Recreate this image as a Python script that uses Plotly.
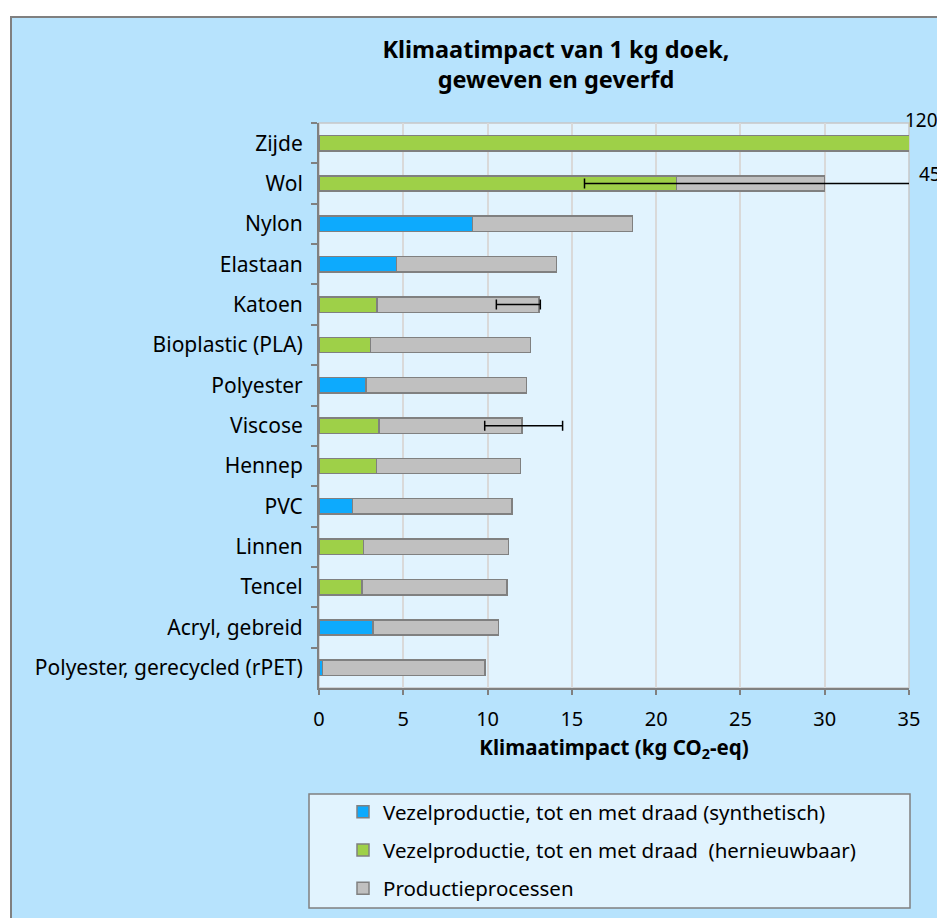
import plotly.graph_objects as go

# ---------------- data ----------------
categories = ["Zijde", "Wol", "Nylon", "Elastaan", "Katoen", "Bioplastic (PLA)",
              "Polyester", "Viscose", "Hennep", "PVC", "Linnen", "Tencel",
              "Acryl, gebreid", "Polyester, gerecycled (rPET)"]
vezel_synthetisch = [None, None, 9.1, 4.6, None, None, 2.8, None, None, 2.0, None, None, 3.2, 0.2]
vezel_hernieuwbaar = [120, 21.2, None, None, 3.45, 3.05, None, 3.55, 3.4, None, 2.65, 2.55, None, None]
productieprocessen = [None, 8.8, 9.5, 9.5, 9.6, 9.5, 9.5, 8.5, 8.55, 9.45, 8.6, 8.6, 7.45, 9.65]

# error bars: category, which stacked end they sit on, low and high ends
err_cats = ["Wol", "Katoen", "Viscose"]
err_on_total = [False, True, True]
err_low = [15.75, 10.52, 9.83]
err_high = [45, 13.13, 14.45]

x_ticks = [0, 5, 10, 15, 20, 25, 30, 35]

series_names = ["Vezelproductie, tot en met draad (synthetisch)",
                "Vezelproductie, tot en met draad  (hernieuwbaar)",
                "Productieprocessen"]
colors = ["#0DAAFD", "#9ED048", "#C0C0C0"]

title_lines = ["Klimaatimpact van 1 kg doek,", "geweven en geverfd"]

FONT = "Noto Sans"
W, H = 945, 918
L, R, T, B = 311, 901, 115, 680   # plot area in figure pixels


def px2x(p):
    return (p - L) / (R - L)


def px2y(p):
    return (B - p) / (B - T)


fig = go.Figure()
for name, vals, col in zip(series_names,
                           [vezel_synthetisch, vezel_hernieuwbaar, productieprocessen],
                           colors):
    fig.add_trace(go.Bar(
        y=categories, x=vals, orientation="h", name=name,
        marker=dict(color=col, line=dict(color="#808080", width=1.5)),
        width=0.38, legendgroup=name,
    ))

# error bar positions derived from series values
base = []
for c, tot in zip(err_cats, err_on_total):
    i = categories.index(c)
    f = (vezel_synthetisch[i] or 0) + (vezel_hernieuwbaar[i] or 0)
    base.append(f + (productieprocessen[i] or 0) if tot else f)
fig.add_trace(go.Scatter(
    y=err_cats, x=base, mode="markers", marker=dict(size=0.1, color="rgba(0,0,0,0)"),
    showlegend=False, hoverinfo="skip",
    error_x=dict(type="data", symmetric=False,
                 array=[h - b for h, b in zip(err_high, base)],
                 arrayminus=[b - l for l, b in zip(err_low, base)],
                 color="black", thickness=1.5, width=5),
))

shapes = [
    # outer frame
    dict(type="rect", xref="paper", yref="paper", layer="below",
         x0=px2x(3), x1=px2x(941), y0=px2y(914), y1=px2y(9),
         fillcolor="#B7E3FD", line=dict(color="#808080", width=2)),
    # plot area
    dict(type="rect", xref="paper", yref="paper", layer="below",
         x0=0, x1=1, y0=0, y1=1,
         fillcolor="#E1F3FE", line=dict(color="#C8C8C8", width=1.5)),
    # legend box
    dict(type="rect", xref="paper", yref="paper", layer="below",
         x0=px2x(301), x1=px2x(902), y0=px2y(900), y1=px2y(786),
         fillcolor="#E1F3FE", line=dict(color="#808080", width=1.5)),
]

annotations = [
    dict(x=35, y=categories[0], xref="x", yref="y", text=str(vezel_hernieuwbaar[0]),
         showarrow=False, xanchor="left", xshift=-6, yshift=23,
         font=dict(family=FONT, size=19, color="black")),
    dict(x=35, y=err_cats[0], xref="x", yref="y", text=str(err_high[0]),
         showarrow=False, xanchor="left", xshift=8, yshift=10,
         font=dict(family=FONT, size=19, color="black")),
]

fig.update_layout(
    width=W, height=H,
    margin=dict(l=L, r=W - R, t=T, b=H - B, autoexpand=False),
    paper_bgcolor="white", plot_bgcolor="rgba(0,0,0,0)",
    barmode="stack",
    font=dict(family=FONT, size=21, color="black"),
    title=dict(text="<b>" + "<br>".join(title_lines) + "</b>",
               x=548 / W, xanchor="center", y=1 - 49.5 / H, yanchor="top",
               font=dict(family=FONT, size=23.5, color="black")),
    xaxis=dict(range=[0, 35], tickvals=x_ticks, showgrid=True, gridcolor="#D9D9D9",
               gridwidth=1.5, zeroline=False, showline=True, linecolor="#808080",
               linewidth=1.5, ticks="outside", ticklen=5, tickcolor="#808080",
               tickwidth=1.5, ticklabelstandoff=7,
               tickfont=dict(family=FONT, size=20),
               title=dict(text="<b>Klimaatimpact (kg CO<sub>2</sub>-eq)</b>", standoff=10,
                          font=dict(family=FONT, size=20.5))),
    yaxis=dict(categoryorder="array", categoryarray=categories, autorange="reversed",
               showline=True, linecolor="#808080", linewidth=2, ticks="outside",
               tickson="boundaries", ticklen=6, tickcolor="#808080", tickwidth=1.5,
               ticklabelstandoff=10, showgrid=False,
               tickfont=dict(family=FONT, size=21)),
    legend=dict(x=px2x(335), y=px2y(784), xanchor="left", yanchor="top",
                bgcolor="rgba(0,0,0,0)", traceorder="grouped", tracegroupgap=8.5,
                font=dict(family=FONT, size=20.5)),
    shapes=shapes, annotations=annotations,
)

fig.write_html("out.html")
